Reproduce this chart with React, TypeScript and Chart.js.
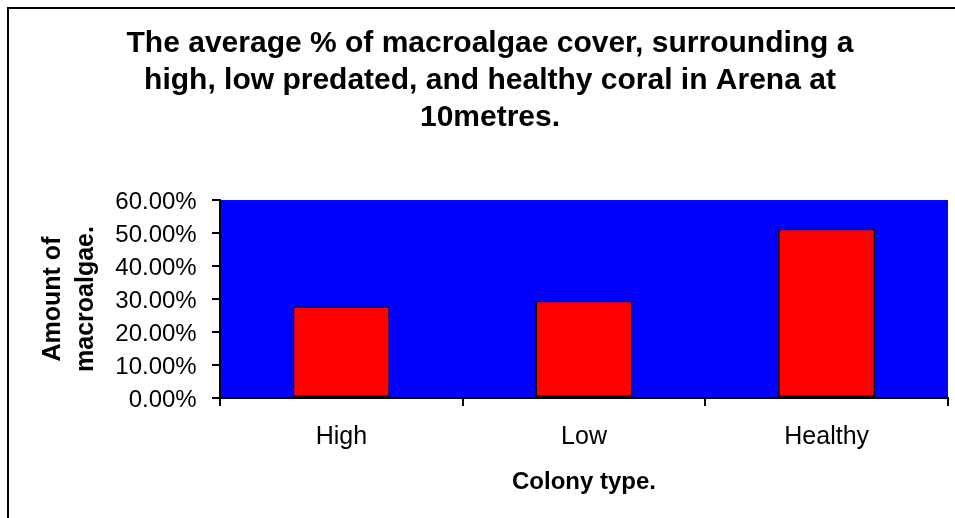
import React, { useEffect, useRef } from "react";
import { Chart, registerables } from "chart.js";

Chart.register(...registerables);

const categories = ["High", "Low", "Healthy"];
const macroalgaeCover = [27.7, 29.5, 51.3];
const yMin = 0;
const yMax = 60;
const yStep = 10;
const titleLines = [
  "The average % of macroalgae cover, surrounding a",
  "high, low predated, and healthy coral in Arena at",
  "10metres.",
];
const yTitleLines = ["Amount of", "macroalgae."];
const xTitle = "Colony type.";

const FAMILY = "'Liberation Sans', Arial, Helvetica, sans-serif";

const plotBackground = {
  id: "plotBackground",
  beforeDraw(chart: any) {
    const { ctx, chartArea } = chart;
    if (!chartArea) return;
    ctx.save();
    ctx.fillStyle = "#0000FF";
    ctx.fillRect(chartArea.left, chartArea.top, chartArea.width, chartArea.height);
    ctx.restore();
  },
};

export default function App() {
  const canvasRef = useRef<HTMLCanvasElement | null>(null);

  useEffect(() => {
    if (!canvasRef.current) return;
    const chart = new Chart(canvasRef.current, {
      type: "bar",
      data: {
        labels: categories,
        datasets: [
          {
            data: macroalgaeCover,
            backgroundColor: "#FF0000",
            borderColor: "#000000",
            borderWidth: 1.5,
            borderSkipped: false,
            categoryPercentage: 1,
            barPercentage: 0.4,
          },
        ],
      },
      options: {
        responsive: false,
        animation: false,
        devicePixelRatio: 1,
        layout: { padding: { left: 23, right: 7, top: 0, bottom: 0 } },
        plugins: {
          legend: { display: false },
          tooltip: { enabled: false },
          title: {
            display: true,
            text: titleLines,
            color: "#000",
            font: { family: FAMILY, size: 30, weight: "bold", lineHeight: 1.247 },
            padding: { top: 15.6, bottom: 63.2 },
          },
        },
        scales: {
          x: {
            grid: {
              offset: true,
              drawOnChartArea: false,
              drawTicks: true,
              tickLength: 8,
              color: "#000",
              lineWidth: 2,
            },
            border: { display: true, color: "#000", width: 2 },
            ticks: {
              color: "#000",
              padding: 16,
              font: { family: FAMILY, size: 25 },
            },
            title: {
              display: true,
              text: xTitle,
              color: "#000",
              font: { family: FAMILY, size: 24, weight: "bold", lineHeight: 1.2 },
              padding: { top: 0, bottom: 21.1 },
            },
            afterFit: (s: any) => {
              s.height = 120;
            },
          },
          y: {
            min: yMin,
            max: yMax,
            grid: {
              drawOnChartArea: false,
              drawTicks: true,
              tickLength: 8,
              color: "#000",
              lineWidth: 2,
            },
            border: { display: true, color: "#000", width: 2 },
            ticks: {
              stepSize: yStep,
              color: "#000",
              padding: 15.3,
              labelOffset: 2,
              font: { family: FAMILY, size: 24 },
              callback: (v: any) => Number(v).toFixed(2) + "%",
            },
            title: {
              display: true,
              text: yTitleLines,
              color: "#000",
              font: { family: FAMILY, size: 25, weight: "bold", lineHeight: 1.32 },
              padding: { top: 4.8, bottom: 0 },
            },
            afterFit: (s: any) => {
              s.width = 188;
            },
          },
        },
      },
      plugins: [plotBackground],
    });
    return () => chart.destroy();
  }, []);

  return (
    <div
      style={{
        position: "fixed",
        left: 7,
        top: 7,
        width: 948,
        height: 511,
        borderLeft: "2px solid #000",
        borderTop: "2px solid #000",
        boxSizing: "border-box",
        background: "#fff",
      }}
    >
      <canvas ref={canvasRef} width={946} height={509} style={{ display: "block" }} />
    </div>
  );
}
